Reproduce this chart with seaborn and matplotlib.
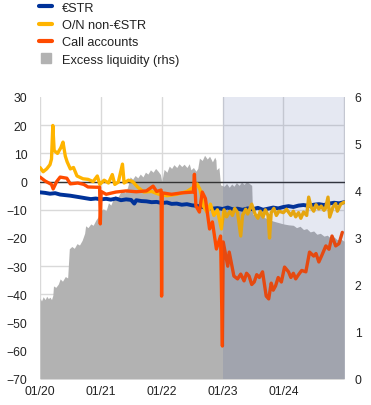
import pandas as pd
import numpy as np
import seaborn as sns
import matplotlib.pyplot as plt
from matplotlib.lines import Line2D

# excess liquidity (rhs, EUR tn)
el_dates = ['2020-01-01', '2020-01-10', '2020-01-20', '2020-02-01', '2020-02-10', '2020-02-20', '2020-03-01',
            '2020-03-10', '2020-03-18', '2020-03-22', '2020-04-05', '2020-04-20', '2020-05-01', '2020-05-15',
            '2020-06-01', '2020-06-15', '2020-06-25', '2020-07-10', '2020-07-25', '2020-08-10', '2020-08-25',
            '2020-09-10', '2020-09-25', '2020-10-01', '2020-10-15', '2020-11-01', '2020-11-15', '2020-12-01',
            '2020-12-15', '2020-12-20', '2021-01-15', '2021-02-01', '2021-02-15', '2021-03-01', '2021-03-15',
            '2021-03-25', '2021-04-10', '2021-04-25', '2021-05-10', '2021-05-25', '2021-06-10', '2021-06-25',
            '2021-07-10', '2021-07-25', '2021-08-10', '2021-08-25', '2021-09-10', '2021-09-25', '2021-10-10',
            '2021-10-25', '2021-11-10', '2021-11-25', '2021-12-10', '2021-12-24', '2022-01-01', '2022-01-15',
            '2022-02-01', '2022-02-15', '2022-03-01', '2022-03-15', '2022-04-01', '2022-04-15', '2022-05-01',
            '2022-05-15', '2022-06-01', '2022-06-15', '2022-06-25', '2022-07-10', '2022-07-25', '2022-08-05',
            '2022-08-15', '2022-09-01', '2022-09-15', '2022-10-01', '2022-10-15', '2022-11-01', '2022-11-15',
            '2022-11-22', '2022-11-25', '2022-12-10', '2022-12-20', '2023-01-10', '2023-01-25', '2023-02-10',
            '2023-02-25', '2023-03-10', '2023-03-25', '2023-04-10', '2023-04-25', '2023-05-10', '2023-05-25',
            '2023-06-10', '2023-06-25', '2023-06-30', '2023-08-01', '2023-09-01', '2023-10-01', '2023-11-01',
            '2023-12-01', '2024-01-01', '2024-02-01', '2024-03-01', '2024-03-20', '2024-04-10', '2024-05-01',
            '2024-05-20', '2024-06-10', '2024-07-01', '2024-07-20', '2024-08-10', '2024-09-01', '2024-09-20',
            '2024-10-10', '2024-11-01', '2024-11-20', '2024-12-10', '2024-12-31']
el_vals = [1.72, 1.66, 1.75, 1.69, 1.76, 1.71, 1.74,
           1.69, 1.78, 1.98, 1.95, 2.02, 2.13, 2.08,
           2.18, 2.15, 2.77, 2.82, 2.78, 2.88, 2.85,
           2.95, 3.10, 3.26, 3.22, 3.30, 3.27, 3.38,
           3.45, 3.55, 3.62, 3.58, 3.75, 3.70, 3.82,
           3.90, 3.86, 3.95, 4.02, 3.96, 4.08, 4.30,
           4.25, 4.33, 4.28, 4.36, 4.30, 4.40, 4.36,
           4.45, 4.40, 4.48, 4.42, 4.35, 4.20, 4.46,
           4.40, 4.53, 4.48, 4.56, 4.50, 4.58, 4.52,
           4.57, 4.50, 4.58, 4.45, 4.50, 4.42, 4.48,
           4.70, 4.65, 4.76, 4.68, 4.74, 4.62, 4.72,
           4.66, 4.45, 4.50, 4.13, 4.10, 4.16, 4.08,
           4.15, 4.10, 4.18, 4.12, 4.19, 4.14, 4.20,
           4.16, 4.12, 3.50, 3.52, 3.45, 3.40, 3.36,
           3.33, 3.30, 3.28, 3.27, 3.22, 3.25, 3.18,
           3.20, 3.13, 3.15, 3.08, 3.10, 3.04, 3.06,
           3.00, 3.02, 2.96, 2.98, 2.93]

# EUR short-term rate spread (bp)
estr_dates = ['2020-01-01', '2020-02-01', '2020-03-01', '2020-04-01', '2020-05-01', '2020-06-01', '2020-07-01',
              '2020-08-01', '2020-09-01', '2020-10-01', '2020-11-01', '2020-12-01', '2021-01-01', '2021-02-01',
              '2021-03-01', '2021-04-01', '2021-05-01', '2021-06-01', '2021-07-01', '2021-07-20', '2021-08-01',
              '2021-09-01', '2021-10-01', '2021-11-01', '2021-12-01', '2022-01-01', '2022-02-01', '2022-03-01',
              '2022-04-01', '2022-05-01', '2022-06-01', '2022-07-01', '2022-08-01', '2022-09-01', '2022-10-01',
              '2022-11-01', '2022-12-01', '2023-01-01', '2023-02-01', '2023-03-01', '2023-04-01', '2023-05-01',
              '2023-06-01', '2023-07-01', '2023-08-01', '2023-09-01', '2023-10-01', '2023-11-01', '2023-12-01',
              '2024-01-01', '2024-02-01', '2024-03-01', '2024-04-01', '2024-05-01', '2024-06-01', '2024-07-01',
              '2024-08-01', '2024-09-01', '2024-10-01', '2024-11-01', '2024-12-01', '2024-12-31']
estr_vals = [-3.8, -4.0, -4.3, -4.1, -4.6, -4.8, -5.0,
             -5.3, -5.6, -5.9, -6.2, -6.0, -6.3, -6.1,
             -6.4, -6.0, -6.6, -6.3, -6.5, -7.8, -6.6,
             -6.9, -7.0, -7.3, -7.2, -7.6, -7.4, -7.9,
             -7.8, -8.2, -8.0, -8.4, -8.6, -9.0, -9.3,
             -9.6, -9.4, -9.7, -9.2, -9.8, -9.6, -10.0,
             -9.5, -9.8, -9.3, -10.0, -9.6, -9.2, -9.5,
             -9.0, -8.7, -9.0, -8.5, -8.3, -8.6, -8.2,
             -8.0, -8.3, -7.8, -7.5, -7.7, -7.3]

# O/N non-EUR STR
non_dates = ['2020-01-01', '2020-01-20', '2020-02-10', '2020-03-01', '2020-03-10', '2020-03-18', '2020-03-26',
             '2020-04-15', '2020-05-05', '2020-05-18', '2020-06-01', '2020-06-12', '2020-07-01', '2020-07-20',
             '2020-08-10', '2020-09-15', '2020-10-15', '2020-11-15', '2020-12-10', '2020-12-25', '2021-01-20',
             '2021-02-15', '2021-03-10', '2021-03-25', '2021-04-15', '2021-05-10', '2021-05-20', '2021-06-15',
             '2021-07-10', '2021-08-10', '2021-09-15', '2021-11-01', '2021-12-15', '2022-02-01', '2022-04-01',
             '2022-06-01', '2022-07-10', '2022-08-01', '2022-08-20', '2022-09-10', '2022-10-01', '2022-10-20',
             '2022-11-10', '2022-12-01', '2022-12-25', '2023-01-10', '2023-01-25', '2023-02-15', '2023-03-01',
             '2023-03-15', '2023-04-01', '2023-04-20', '2023-05-01', '2023-05-20', '2023-06-01', '2023-06-25',
             '2023-07-15', '2023-08-01', '2023-08-15', '2023-09-01', '2023-09-15', '2023-10-01', '2023-10-10',
             '2023-10-20', '2023-11-05', '2023-11-20', '2023-12-05', '2024-01-01', '2024-01-20', '2024-02-15',
             '2024-03-01', '2024-03-15', '2024-04-01', '2024-04-15', '2024-05-01', '2024-05-20', '2024-06-01',
             '2024-06-15', '2024-07-01', '2024-07-15', '2024-08-01', '2024-08-15', '2024-09-01', '2024-09-10',
             '2024-09-25', '2024-10-05', '2024-10-25', '2024-11-10', '2024-11-20', '2024-12-10', '2024-12-31']
non_vals = [5.0, 3.5, 4.5, 6.0, 8.0, 19.9, 11.0,
            10.0, 12.0, 14.0, 9.0, 7.0, 4.5, 5.0,
            2.0, 1.0, 0.8, 0.0, 2.0, -1.0, 0.5,
            -0.5, 2.5, -1.0, -0.2, 6.2, -0.5, 0.5,
            0.0, -2.0, -3.7, -3.5, -4.5, -5.0, -4.5,
            -3.5, -2.0, -0.8, -3.0, -9.0, -11.0, -8.0,
            -12.0, -10.0, -16.8, -10.0, -12.5, -10.5, -12.0,
            -9.5, -11.0, -19.3, -12.0, -9.8, -11.5, -8.0,
            -11.5, -13.0, -10.5, -12.6, -10.0, -12.0, -20.0,
            -11.0, -9.5, -12.0, -10.5, -11.0, -9.8, -12.0,
            -10.5, -12.5, -11.0, -13.0, -10.8, -12.0, -5.5,
            -9.0, -10.5, -8.2, -9.7, -8.7, -10.2, -9.5,
            -5.5, -12.6, -9.0, -7.8, -10.5, -8.0, -7.3]

# call accounts
call_dates = ['2020-01-01', '2020-02-01', '2020-03-10', '2020-03-20', '2020-04-10', '2020-05-01', '2020-06-10',
              '2020-07-01', '2020-08-15', '2020-09-20', '2020-10-15', '2020-12-01', '2020-12-24', '2020-12-28',
              '2021-01-02', '2021-02-01', '2021-04-01', '2021-06-01', '2021-08-01', '2021-10-01', '2021-11-10',
              '2021-12-01', '2021-12-28', '2021-12-31', '2022-01-04', '2022-03-01', '2022-05-01', '2022-07-10',
              '2022-07-16', '2022-07-25', '2022-08-15', '2022-09-01', '2022-09-20', '2022-10-15', '2022-11-01',
              '2022-11-25', '2022-12-20', '2022-12-31', '2023-01-05', '2023-02-01', '2023-02-10', '2023-03-10',
              '2023-04-01', '2023-04-20', '2023-05-10', '2023-05-25', '2023-06-09', '2023-06-25', '2023-07-10',
              '2023-07-25', '2023-08-10', '2023-08-29', '2023-09-20', '2023-10-05', '2023-10-20', '2023-11-01',
              '2023-11-15', '2023-12-01', '2023-12-20', '2024-01-08', '2024-02-01', '2024-02-15', '2024-03-01',
              '2024-03-15', '2024-04-01', '2024-04-20', '2024-05-15', '2024-06-06', '2024-07-01', '2024-07-15',
              '2024-08-01', '2024-08-20', '2024-09-12', '2024-10-01', '2024-10-19', '2024-11-10', '2024-11-30',
              '2024-12-20']
call_vals = [1.6, 0.2, -1.0, -2.6, 0.0, 1.6, 1.2,
             -0.8, -0.5, -1.0, -1.9, -2.0, -2.0, -15.0,
             -3.5, -4.5, -3.7, -3.3, -3.6, -3.3, -1.6,
             -3.5, -3.0, -40.6, -4.0, -4.5, -4.0, -3.7,
             2.6, -8.6, -10.8, -3.7, -6.0, -16.8, -14.3,
             -23.9, -19.3, -58.3, -21.4, -30.0, -25.0, -33.5,
             -34.5, -32.8, -35.2, -32.5, -33.5, -36.5, -35.6,
             -33.0, -34.0, -32.0, -40.6, -41.6, -36.0, -38.5,
             -37.0, -34.0, -35.6, -30.3, -32.0, -34.0, -32.5,
             -34.5, -33.0, -31.5, -32.0, -25.0, -26.4, -25.5,
             -28.5, -26.0, -22.8, -24.0, -19.3, -22.8, -22.0,
             -18.0]

year_ticks = ['2020-01-01', '2021-01-01', '2022-01-01', '2023-01-01', '2024-01-01', '2025-01-01']
year_labels = ['01/20', '01/21', '01/22', '01/23', '01/24', '']

sns.set_style('white')
plt.rcParams['font.family'] = ['Liberation Sans', 'DejaVu Sans']

fig = plt.figure(figsize=(3.71, 4.06), dpi=100)
ax2 = fig.add_axes([40 / 371, 1 - 380 / 406, 305 / 371, 282 / 406])
ax = ax2.twinx()
ax.set_zorder(ax2.get_zorder() + 1)
ax.patch.set_visible(False)

# excess liquidity area on the right scale
ax2.fill_between(pd.to_datetime(el_dates), 0, el_vals, color='#b2b2b2', lw=0, zorder=2)
ax2.set_ylim(0, 6)
ax2.set_yticks(np.arange(0, 7, 1))
ax2.set_yticks(np.linspace(0, 6, 11), minor=True)
ax2.yaxis.tick_right()
ax2.grid(which='minor', axis='y', color='#d9d9d9', lw=1, zorder=0)
ax2.grid(which='major', axis='x', color='#d9d9d9', lw=1, zorder=0)
ax2.tick_params(axis='y', which='both', length=0, labelsize=8.7, pad=7, colors='#222222')
ax2.tick_params(axis='x', length=0, labelsize=8.7, pad=4, colors='#222222')

# lines on left scale
ax.yaxis.tick_left()
sns.lineplot(x=pd.to_datetime(estr_dates), y=estr_vals, ax=ax, color='#003299', lw=2.8)
sns.lineplot(x=pd.to_datetime(non_dates), y=non_vals, ax=ax, color='#ffb400', lw=2.4)
sns.lineplot(x=pd.to_datetime(call_dates), y=call_vals, ax=ax, color='#ff4b00', lw=2.4)
ax.axhline(0, color='#333333', lw=1, zorder=1)
ax.set_ylim(-70, 30)
ax.set_yticks(np.arange(-70, 31, 10))
ax.tick_params(axis='y', length=0, labelsize=8.7, pad=9, colors='#222222')
ax.set_xlim(pd.Timestamp('2020-01-01'), pd.Timestamp('2025-01-05'))
ax2.set_xlim(pd.Timestamp('2020-01-01'), pd.Timestamp('2025-01-05'))
ax2.set_xticks(pd.to_datetime(year_ticks))
ax2.set_xticklabels(year_labels)
ax.set_xlabel('')
ax.set_ylabel('')

# shaded period on top
ax.axvspan(pd.Timestamp('2023-01-01'), pd.Timestamp('2025-01-05'), color='#294398', alpha=0.117, lw=0, zorder=10)

for a in (ax, ax2):
    for s in a.spines.values():
        s.set_visible(False)

handles = [Line2D([], [], color='#003299', lw=3),
           Line2D([], [], color='#ffb400', lw=3),
           Line2D([], [], color='#ff4b00', lw=3),
           Line2D([], [], color='#b2b2b2', lw=0, marker='s', markersize=7.5)]
labels = ['€STR', 'O/N non-€STR', 'Call accounts', 'Excess liquidity (rhs)']
fig.legend(handles, labels, loc='upper left', bbox_to_anchor=(38 / 371, 1 - 1.5 / 406), frameon=False,
           fontsize=9.2, handlelength=1.0, handleheight=0.8, handletextpad=0.8, labelspacing=0.38,
           borderpad=0.1, borderaxespad=0, labelcolor='#222222')

fig.savefig('out.png', dpi=100)
